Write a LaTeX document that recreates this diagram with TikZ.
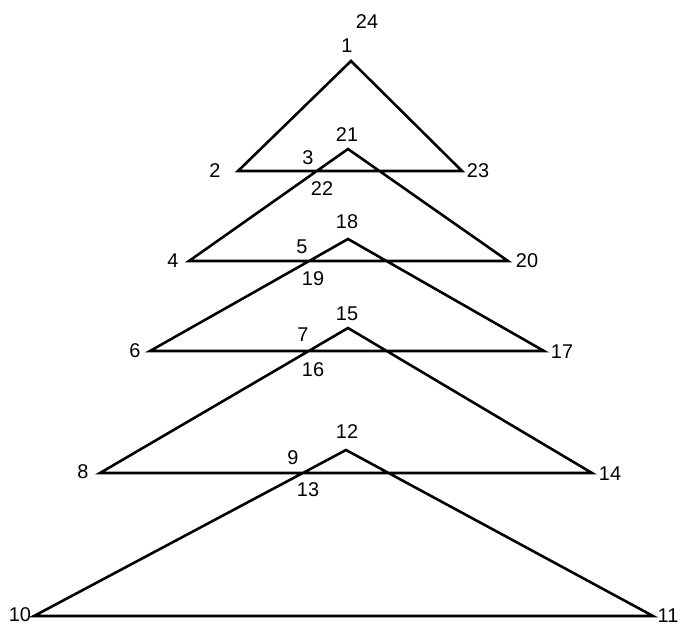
\documentclass[tikz,border=0pt]{standalone}
\usepackage{fontspec}
\setmainfont{Liberation Sans}
\usetikzlibrary{positioning}
\tikzset{num/.style={inner sep=0pt,font=\fontsize{17}{20}\selectfont},outline/.style={line width=2.2pt,line join=miter}}

\begin{document}
\begin{tikzpicture}[x=0.3mm,y=-0.3mm]
\useasboundingbox (0,0) rectangle (682,628);
% corners of the five triangles
\coordinate (p1) at (351,61);\coordinate (p2) at (238,171);\coordinate (p23) at (462,171);
\coordinate (p21) at (348,149);\coordinate (p4) at (189,261);\coordinate (p20) at (508,261);
\coordinate (p18) at (348,239);\coordinate (p6) at (150,351);\coordinate (p17) at (544,351);
\coordinate (p15) at (348,328);\coordinate (p8) at (100,473);\coordinate (p14) at (592,473);
\coordinate (p12) at (346,450);\coordinate (p10) at (34,616);\coordinate (p11) at (653,616);
% crossings
\coordinate (p3) at (intersection of p2--p23 and p21--p4);
\coordinate (p5) at (intersection of p4--p20 and p18--p6);
\coordinate (p7) at (intersection of p6--p17 and p15--p8);
\coordinate (p9) at (intersection of p8--p14 and p12--p10);
\draw[outline] (p1) -- (p2) -- (p3) -- (p4) -- (p5) -- (p6) -- (p7) -- (p8) -- (p9) -- (p10) -- (p11) -- (p12) -- (p9) -- (p14) -- (p15) -- (p7) -- (p17) -- (p18) -- (p5) -- (p20) -- (p21) -- (p3) -- (p23) -- cycle;
% numbers
\node[num] (n24) at (367,22) {24};\node[num] (n1) at (347,46) {1};
\node[num] (n2) at (215,171) {2};\node[num] (n23) at (478,171) {23};
\node[num] (n21) at (347,135) {21};\node[num] (n3) at (308,158) {3};\node[num] (n22) at (322,189) {22};
\node[num] (n4) at (173,261) {4};\node[num] (n20) at (527,261) {20};
\node[num] (n18) at (347,222) {18};\node[num] (n5) at (302,247) {5};\node[num] (n19) at (313,279) {19};
\node[num] (n6) at (135,351) {6};\node[num] (n17) at (562,352) {17};
\node[num] (n15) at (347,314) {15};\node[num] (n7) at (303,335) {7};\node[num] (n16) at (313,370) {16};
\node[num] (n8) at (83,472) {8};\node[num] (n14) at (610,474) {14};
\node[num] (n12) at (347,432) {12};\node[num] (n9) at (293,458) {9};\node[num] (n13) at (308,490) {13};
\node[num] (n10) at (20,615) {10};\node[num] (n11) at (668,616) {11};
\end{tikzpicture}
\end{document}
